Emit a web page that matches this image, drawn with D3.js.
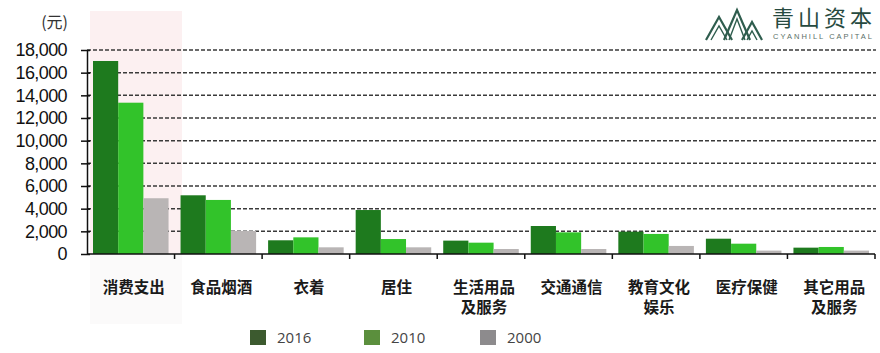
<!DOCTYPE html>
<html><head><meta charset="utf-8">
<script src="https://cdn.jsdelivr.net/npm/d3@7"></script>
<style>body{margin:0;background:#fff;}svg{display:block;}</style>
</head><body>
<svg id="c" width="880" height="353"></svg>
<script>
const categories = [["消费支出"],["食品烟酒"],["衣着"],["居住"],["生活用品","及服务"],["交通通信"],["教育文化","娱乐"],["医疗保健"],["其它用品","及服务"]];
const seriesNames = ["2016","2010","2000"];
const values2016 = [17030, 5180, 1210, 3880, 1180, 2470, 1970, 1350, 560];
const values2010 = [13350, 4770, 1470, 1320, 1000, 1910, 1770, 910, 620];
const values2000 = [4920, 2030, 590, 590, 440, 440, 710, 300, 300];
const yTicks = [0,2000,4000,6000,8000,10000,12000,14000,16000,18000];
const barColors = ["#1e7a1e","#32c32a","#b9b5b5"];
const legendColors = ["#3c5a2f","#5b8f3d","#8d8b8d"];

(function () {
const svg = d3.select("#c");
const pL = 87, pR = 875, pT = 50, pB = 254;
const x0 = d3.scaleBand().domain(d3.range(categories.length)).range([pL, pR]).padding(0);
const x1 = d3.scaleBand().domain(seriesNames).range([6, x0.bandwidth() - 6]).padding(0);
const y = d3.scaleLinear().domain([0, 18000]).range([pB, pT]);
const data = [values2016, values2010, values2000];

// pink highlight
svg.append("rect").attr("x", 90).attr("y", 11).attr("width", 92).attr("height", pB - 11)
  .attr("fill", "#fcf0f1");
svg.append("rect").attr("x", 90).attr("y", pB).attr("width", 92).attr("height", 70)
  .attr("fill", "#fbfafa");

// gridlines
svg.append("g").selectAll("line").data(yTicks.filter(d => d > 0)).join("line")
  .attr("x1", pL).attr("x2", pR + 1).attr("y1", d => y(d)).attr("y2", d => y(d))
  .attr("stroke", "#3a3a3a").attr("stroke-width", 1.5).attr("stroke-dasharray", "4,2");

// bars
const groups = svg.append("g").selectAll("g").data(categories).join("g")
  .attr("transform", (d, i) => `translate(${x0(i)},0)`);
groups.selectAll("rect").data((d, i) => seriesNames.map((s, k) => ({s, k, v: data[k][i]}))).join("rect")
  .attr("x", d => x1(d.s)).attr("width", x1.bandwidth())
  .attr("y", d => y(d.v)).attr("height", d => y(0) - y(d.v))
  .attr("fill", d => barColors[d.k]);

// y axis
const yAxis = svg.append("g").attr("transform", `translate(${pL},0)`)
  .call(d3.axisLeft(y).tickValues(yTicks).tickFormat(d3.format(",")).tickSizeInner(6).tickSizeOuter(0).tickPadding(14));
yAxis.select(".domain").attr("stroke", "#111").attr("stroke-width", 1.5);
yAxis.selectAll(".tick line").attr("stroke", "#111").attr("stroke-width", 1.5);
yAxis.selectAll(".tick").append("line").attr("x1", 0).attr("x2", 3).attr("stroke", "#111").attr("stroke-width", 1.5);
yAxis.selectAll(".tick text").attr("font-family", "Liberation Sans, Arial, sans-serif")
  .attr("font-size", 18).attr("fill", "#111")
  .style("letter-spacing", "-0.6px");

// x axis
const xb = svg.append("g");
xb.append("line").attr("x1", pL).attr("x2", pR).attr("y1", pB).attr("y2", pB)
  .attr("stroke", "#111").attr("stroke-width", 1.5);
const bounds = d3.range(categories.length).map(i => x0(i)).concat([pR]);
xb.selectAll("line.t").data(bounds.slice(1)).join("line").attr("class", "t")
  .attr("x1", d => d).attr("x2", d => d).attr("y1", pB).attr("y2", pB + 5)
  .attr("stroke", "#111").attr("stroke-width", 1.5);

// category labels
const lab = svg.append("g").selectAll("text").data(categories).join("text")
  .attr("x", (d, i) => x0(i) + x0.bandwidth() / 2 + 3)
  .attr("y", 293)
  .attr("text-anchor", "middle")
  .attr("font-family", "Noto Sans CJK SC, sans-serif").attr("font-size", 15.5).attr("font-weight", "bold")
  .attr("fill", "#1a1a1a");
lab.selectAll("tspan").data(d => d).join("tspan")
  .attr("x", function () { return this.parentNode.getAttribute("x"); })
  .attr("dy", (d, i) => i === 0 ? 0 : 20).text(d => d);

// unit label
svg.append("text").attr("x", 68).attr("y", 28).attr("text-anchor", "end")
  .attr("font-family", "Noto Sans CJK SC, sans-serif").attr("font-size", 16).attr("fill", "#333").text("(元)");

// legend
const legX = [250, 364, 480];
const leg = svg.append("g").selectAll("g").data(seriesNames).join("g")
  .attr("transform", (d, i) => `translate(${legX[i]},330)`);
leg.append("rect").attr("width", 16).attr("height", 15).attr("fill", (d, i) => legendColors[i]);
leg.append("text").attr("x", 27).attr("y", 13).attr("font-family", "Open Sans, sans-serif")
  .attr("font-size", 15).attr("fill", "#444").text(d => d);

// logo
const logo = svg.append("g");
const mc = "#2f5d4e";
const peaks = [[[706,40],[719,17],[732,40]],[[724,40],[737,10],[750,40]],[[742,40],[752,22],[762,40]]];
peaks.forEach(p => {
  logo.append("path").attr("d", d3.line()(p)).attr("fill", "none").attr("stroke", mc).attr("stroke-width", 2.2);
  logo.append("path").attr("d", d3.line()([[p[0][0]+5,p[0][1]],[p[1][0],p[1][1]+9],[p[2][0]-5,p[2][1]]]))
    .attr("fill", "none").attr("stroke", mc).attr("stroke-width", 1.4);
});
logo.append("text").attr("x", 772).attr("y", 26).attr("font-family", "Noto Sans CJK SC, sans-serif")
  .attr("font-size", 22).attr("fill", "#274a40").attr("textLength", 100).text("青山资本");
logo.append("text").attr("x", 773).attr("y", 39).attr("font-family", "Liberation Sans, sans-serif")
  .attr("font-size", 7.5).attr("fill", "#5a6f68").attr("textLength", 99).text("CYANHILL CAPITAL");
})();
</script>
</body></html>
